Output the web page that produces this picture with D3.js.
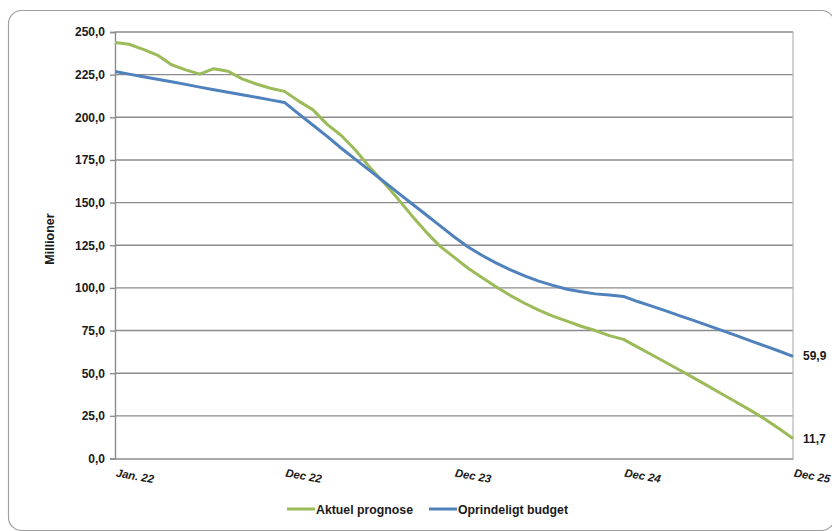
<!DOCTYPE html>
<html>
<head>
<meta charset="utf-8">
<script src="https://cdn.jsdelivr.net/npm/d3@7"></script>
<style>
  html, body { margin: 0; padding: 0; background: #fff; }
  svg { display: block; font-family: "Liberation Sans", Arial, sans-serif; }
</style>
</head>
<body>
<svg id="chart" width="832" height="531"></svg>
<script>
// ---- Data ----
const xTickLabels = ["Jan. 22", "Dec 22", "Dec 23", "Dec 24", "Dec 25"];
const xTickIndex = [0, 12, 24, 36, 48];
const yTicks = [0, 25, 50, 75, 100, 125, 150, 175, 200, 225, 250];
const seriesNames = ["Aktuel prognose", "Oprindeligt budget"];
const aktuelPrognose = [
  243.8, 242.8, 239.8, 236.5, 230.8, 227.8, 225.3, 228.5, 227.0, 222.5,
  219.5, 217.0, 215.2, 209.5, 204.5, 196.0, 189.5, 181.0, 171.0, 162.0,
  152.5, 142.5, 133.0, 124.5, 118.0, 111.5, 106.0, 100.5, 95.5, 91.0,
  87.0, 83.5, 80.5, 77.5, 75.0, 72.0, 69.8, 65.3, 60.8, 56.3,
  51.7, 47.1, 42.4, 37.7, 33.0, 28.2, 23.2, 17.6, 11.7
];
const oprindeligtBudget = [
  226.8, 225.3, 223.8, 222.3, 220.8, 219.3, 217.7, 216.2, 214.7, 213.2,
  211.7, 210.2, 208.7, 202.0, 195.5, 189.0, 182.0, 175.5, 169.0, 162.5,
  156.0, 149.5, 143.0, 136.5, 130.0, 124.0, 119.0, 114.5, 110.5, 107.0,
  104.0, 101.5, 99.2, 97.8, 96.5, 95.8, 95.0, 92.0, 89.3, 86.5,
  83.6, 80.8, 77.9, 75.0, 72.0, 69.0, 66.0, 63.0, 59.9
];
const endLabels = ["11,7", "59,9"];
const colors = ["#9bbb59", "#4f81bd"];

// ---- Layout ----
const svg = d3.select("#chart");
const plotLeft = 115, plotRight = 793, plotTop = 32, plotBottom = 458.5;

const x = d3.scaleLinear().domain([0, aktuelPrognose.length - 1]).range([plotLeft, plotRight]);
const y = d3.scaleLinear().domain([0, 250]).range([plotBottom, plotTop]);

// outer frame
svg.append("rect")
  .attr("x", 8.5).attr("y", 10.5)
  .attr("width", 826).attr("height", 520)
  .attr("rx", 13).attr("ry", 13)
  .attr("fill", "#fff").attr("stroke", "#a0a0a0").attr("stroke-width", 1.2);

// gridlines
svg.append("g").selectAll("line").data(yTicks.filter(d => d > 0)).join("line")
  .attr("x1", plotLeft).attr("x2", plotRight)
  .attr("y1", d => y(d)).attr("y2", d => y(d))
  .attr("stroke", "#8c8c8c").attr("stroke-width", 1.4);

// right border of plot
svg.append("line")
  .attr("x1", plotRight).attr("x2", plotRight).attr("y1", plotTop).attr("y2", plotBottom)
  .attr("stroke", "#b4b4b4").attr("stroke-width", 1.2);

// y axis
const yAxis = d3.axisLeft(y).tickValues(yTicks).tickSize(5)
  .tickFormat(d => d3.format(".1f")(d).replace(".", ","));
const gy = svg.append("g").attr("transform", `translate(${plotLeft},0)`).call(yAxis);
gy.select(".domain").attr("stroke", "#8c8c8c").attr("stroke-width", 1.4);
gy.selectAll(".tick line").attr("stroke", "#8c8c8c").attr("stroke-width", 1.4);
gy.selectAll(".tick text")
  .attr("x", -10)
  .attr("font-family", "Liberation Sans, Arial, sans-serif")
  .attr("font-size", 12).attr("font-weight", "bold").attr("fill", "#1a1a1a");

// x axis
const xAxis = d3.axisBottom(x).tickValues(xTickIndex).tickSize(0)
  .tickFormat((d, i) => xTickLabels[i]);
const gx = svg.append("g").attr("transform", `translate(0,${plotBottom})`).call(xAxis);
gx.select(".domain").attr("stroke", "#8c8c8c").attr("stroke-width", 1.6);
gx.selectAll(".tick text")
  .attr("text-anchor", "start")
  .attr("dy", 0)
  .attr("y", 0)
  .attr("transform", "translate(0,18) rotate(10)")
  .attr("font-family", "Liberation Sans, Arial, sans-serif")
  .attr("font-size", 11.3).attr("font-weight", "bold").attr("font-style", "italic")
  .attr("fill", "#1a1a1a");

// y title
svg.append("text")
  .attr("transform", `translate(54,239) rotate(-90)`)
  .attr("text-anchor", "middle")
  .attr("font-size", 12.5).attr("font-weight", "bold").attr("fill", "#1a1a1a")
  .text("Millioner");

// lines
const line = d3.line().x((d, i) => x(i)).y(d => y(d));
[aktuelPrognose, oprindeligtBudget].forEach((s, k) => {
  svg.append("path").datum(s)
    .attr("d", line)
    .attr("fill", "none")
    .attr("stroke", colors[k])
    .attr("stroke-width", 3)
    .attr("stroke-linejoin", "round");
});

// end labels
[aktuelPrognose, oprindeligtBudget].forEach((s, k) => {
  svg.append("text")
    .attr("x", plotRight + 10)
    .attr("y", y(s[s.length - 1]) + 4)
    .attr("font-size", 12).attr("font-weight", "bold").attr("fill", "#1a1a1a")
    .text(endLabels[k]);
});

// legend
const legendItems = [
  { name: seriesNames[0], color: colors[0], x: 287 },
  { name: seriesNames[1], color: colors[1], x: 429 }
];
const lg = svg.append("g");
legendItems.forEach(it => {
  lg.append("line")
    .attr("x1", it.x).attr("x2", it.x + 28)
    .attr("y1", 509).attr("y2", 509)
    .attr("stroke", it.color).attr("stroke-width", 3);
  lg.append("text")
    .attr("x", it.x + 29).attr("y", 513.5)
    .attr("font-size", 12.3).attr("font-weight", "bold").attr("fill", "#1a1a1a")
    .text(it.name);
});
</script>
</body>
</html>
